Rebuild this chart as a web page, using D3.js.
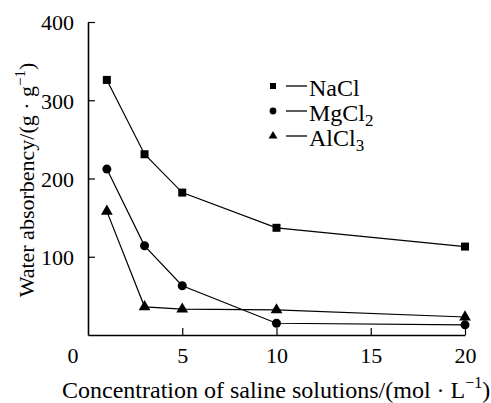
<!DOCTYPE html>
<html>
<head>
<meta charset="utf-8">
<script src="https://cdn.jsdelivr.net/npm/d3@7"></script>
<style>
  body { margin: 0; background: #fff; }
  svg text { font-family: "Liberation Serif", Tinos, "Times New Roman", "DejaVu Serif", serif; fill: #000; }
</style>
</head>
<body>
<div id="chart"></div>
<script>
"use strict";

// Data
const concentrations = [1, 3, 5, 10, 20];
const naclValues = [326, 231, 182, 137, 113];
const mgcl2Values = [212, 114, 63, 15, 13];
const alcl3Values = [158, 36, 33, 32, 23];
const xTicks = [5, 10, 15, 20];
const yTicks = [100, 200, 300, 400];

const series = [
    { name: "NaCl", sub: "", values: naclValues, symbol: d3.symbolSquare },
    { name: "MgCl", sub: "2", values: mgcl2Values, symbol: d3.symbolCircle },
    { name: "AlCl", sub: "3", values: alcl3Values, symbol: d3.symbolTriangle }
];

const W = 491, H = 403;
const margin = { top: 22, right: 26, bottom: 68, left: 88 };
const width = W - margin.left - margin.right;
const height = H - margin.top - margin.bottom;

const x = d3.scaleLinear().domain([0, 20]).range([0, 377]);
const y = d3.scaleLinear().domain([0, 400]).range([height, 0]);

const svg = d3.select("#chart").append("svg")
    .attr("width", W)
    .attr("height", H);

const g = svg.append("g")
    .attr("transform", `translate(${margin.left},${margin.top})`);

// axes (ticks point inward)
const xAxis = g.append("g")
    .attr("transform", `translate(0,${height})`)
    .call(d3.axisBottom(x).tickValues(xTicks).tickSize(-7).tickPadding(12).tickSizeOuter(0));
const yAxis = g.append("g")
    .call(d3.axisLeft(y).tickValues(yTicks).tickSize(-7).tickPadding(14).tickSizeOuter(0));

[xAxis, yAxis].forEach(ax => {
    ax.attr("font-size", 22).attr("font-family", null);
    ax.select(".domain").attr("stroke", "#000").attr("stroke-width", 1.6);
    ax.selectAll(".tick line").attr("stroke", "#000").attr("stroke-width", 1.2);
    ax.selectAll(".tick text").attr("fill", "#000");
});
xAxis.selectAll(".tick text").attr("dy", "0.71em");
yAxis.selectAll(".tick text").attr("dy", "0.36em");

// origin label
g.append("text")
    .attr("x", -15)
    .attr("y", height + 12)
    .attr("dy", "0.71em")
    .attr("text-anchor", "middle")
    .attr("font-size", 22)
    .text("0");

// lines + markers
const line = d3.line()
    .x((d, i) => x(concentrations[i]))
    .y(d => y(d));

series.forEach(s => {
    g.append("path")
        .datum(s.values)
        .attr("fill", "none")
        .attr("stroke", "#000")
        .attr("stroke-width", 1.2)
        .attr("d", line);

    g.selectAll(null)
        .data(s.values)
        .enter().append("path")
        .attr("transform", (d, i) => `translate(${x(concentrations[i])},${y(d)})`)
        .attr("d", d3.symbol().type(s.symbol).size(s.symbol === d3.symbolTriangle ? 60 : 64))
        .attr("fill", "#000");
});

// legend
const legend = svg.append("g").attr("transform", "translate(273,86)");
series.forEach((s, i) => {
    const row = legend.append("g").attr("transform", `translate(0,${i * 25})`);
    row.append("path")
        .attr("d", d3.symbol().type(s.symbol).size(s.symbol === d3.symbolTriangle ? 34 : 36))
        .attr("fill", "#000");
    row.append("line")
        .attr("x1", 13).attr("x2", 34)
        .attr("y1", 0).attr("y2", 0)
        .attr("stroke", "#000")
        .attr("stroke-width", 1.3);
    const t = row.append("text")
        .attr("x", 36)
        .attr("y", 10)
        .attr("font-size", 24)
        .text(s.name);
    if (s.sub) {
        t.append("tspan").attr("dy", 5).attr("font-size", 17).text(s.sub);
    }
});

// axis titles
const xTitle = svg.append("text")
    .attr("x", 62)
    .attr("y", 398)
    .attr("font-size", 24)
    .text("Concentration of saline solutions/(mol \u00b7 L");
xTitle.append("tspan").attr("dy", -10).attr("font-size", 16).text("\u22121");
xTitle.append("tspan").attr("dy", 10).text(")");

const yTitle = svg.append("text")
    .attr("transform", "translate(34,180) rotate(-90)")
    .attr("text-anchor", "middle")
    .attr("font-size", 22)
    .text("Water absorbency/(g \u00b7 g");
yTitle.append("tspan").attr("dy", -9).attr("font-size", 15).text("\u22121");
yTitle.append("tspan").attr("dy", 9).text(")");
</script>
</body>
</html>
